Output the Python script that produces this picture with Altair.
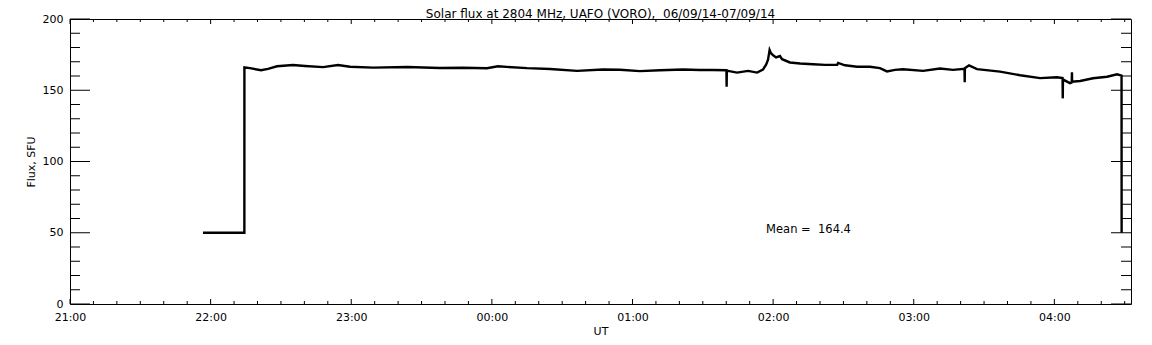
import altair as alt
import pandas as pd

# ---- data (UT time, flux in SFU) ----
times = [
    "21:56:45", "22:14:24", "22:14:25", "22:16:48", "22:21:30", "22:24:30", "22:28:20",
    "22:35:10", "22:40:15", "22:48:00", "22:54:20", "22:59:30", "23:09:20", "23:23:50",
    "23:37:50", "23:47:40", "23:57:55", "00:02:35", "00:15:00", "00:24:50", "00:36:20",
    "00:47:25", "00:54:40", "01:03:10", "01:11:45", "01:21:35", "01:28:50", "01:34:20",
    "01:40:05", "01:40:10", "01:40:15", "01:44:35", "01:49:20", "01:53:10", "01:55:40",
    "01:57:00", "01:57:50", "01:58:30", "01:59:05", "02:00:00", "02:01:15", "02:02:55",
    "02:03:50", "02:07:10", "02:11:30", "02:17:00", "02:22:10", "02:27:20", "02:27:45",
    "02:30:40", "02:35:50", "02:41:20", "02:45:35", "02:48:35", "02:52:00", "02:55:25",
    "03:04:00", "03:11:10", "03:16:45", "03:21:40", "03:21:45", "03:21:50", "03:23:35",
    "03:27:00", "03:36:50", "03:45:25", "03:53:55", "04:01:05", "04:03:30", "04:03:35",
    "04:03:40", "04:06:40", "04:07:25", "04:07:30", "04:07:35", "04:11:00", "04:16:30",
    "04:22:30", "04:26:45", "04:28:40", "04:28:42",
]
flux = [
    50.0, 50.0, 166.0, 165.5, 164.0, 165.0, 166.8,
    167.7, 167.0, 166.2, 167.7, 166.5, 165.9, 166.3,
    165.6, 165.8, 165.4, 166.8, 165.5, 164.9, 163.6,
    164.6, 164.4, 163.4, 164.0, 164.6, 164.2, 164.2,
    164.0, 152.5, 163.8, 162.4, 163.6, 162.4, 164.5,
    168.0, 171.5, 178.2, 176.0, 174.5, 173.0, 174.0,
    171.8, 169.5, 168.8, 168.2, 167.8, 167.8, 169.2,
    167.5, 166.5, 166.5, 165.5, 163.2, 164.3, 164.7,
    163.6, 165.3, 164.3, 165.0, 155.6, 165.5, 167.5,
    164.8, 163.1, 160.5, 158.5, 159.1, 158.5, 144.3,
    157.5, 155.0, 155.5, 162.6, 156.0, 156.5, 158.4,
    159.5, 161.2, 160.3, 50.0,
]

hour_labels = ["21:00", "22:00", "23:00", "00:00", "01:00", "02:00", "03:00", "04:00"]
y_major = [0, 50, 100, 150, 200]
y_minor = [v for v in range(0, 201, 10) if v % 50]

mean_text = "Mean =\u00a0 164.4"
mean_time = "01:57:00"
mean_y = 52

title_text = "Solar flux at 2804 MHz, UAFO (VORO),\u00a0 06/09/14-07/09/14"

X_END = 7.545  # 04:32:40 in hours after 21:00


def to_hours(s):
    parts = [int(p) for p in s.split(":")]
    while len(parts) < 3:
        parts.append(0)
    h = parts[0] + parts[1] / 60 + parts[2] / 3600
    if h < 21:
        h += 24
    return h - 21


series = pd.DataFrame({"t": [to_hours(s) for s in times], "flux": flux})
x_major = [to_hours(s) for s in hour_labels]
x_minor = [k / 6 for k in range(0, 46) if k % 6 != 0]

W, H = 1061, 285
FONT = "DejaVu Sans"

xscale = alt.Scale(domain=[0, X_END], nice=False, zero=False)
yscale = alt.Scale(domain=[0, 200], nice=False, zero=False)

xaxis = alt.Axis(
    values=x_major,
    labelExpr="(((datum.value + 21) % 24) < 10 ? '0' : '') + ((datum.value + 21) % 24) + ':00'",
    ticks=False,
    tickSize=0,
    domain=False,
    grid=False,
    labelFlush=False,
    labelPadding=7,
    title="UT",
    titlePadding=3,
)
yaxis = alt.Axis(
    values=y_major,
    ticks=False,
    tickSize=0,
    domain=False,
    grid=False,
    labelPadding=7,
    title="Flux, SFU",
    titlePadding=6,
)

line = alt.Chart(series).mark_line(color="black", strokeWidth=2.4, interpolate="linear").encode(
    x=alt.X("t:Q", scale=xscale, axis=xaxis),
    y=alt.Y("flux:Q", scale=yscale, axis=yaxis),
)

mean_df = pd.DataFrame({"t": [to_hours(mean_time)], "flux": [mean_y], "label": [mean_text]})
mean = alt.Chart(mean_df).mark_text(
    align="left", baseline="middle", font=FONT, fontSize=11.5, color="black"
).encode(
    x=alt.X("t:Q", scale=xscale, axis=xaxis),
    y=alt.Y("flux:Q", scale=yscale, axis=yaxis),
    text="label:N",
)

title_df = pd.DataFrame({"label": [title_text]})
title = alt.Chart(title_df).mark_text(
    align="center", baseline="alphabetic", font=FONT, fontSize=12, color="black"
).encode(
    x=alt.value(W / 2), y=alt.value(-1), text="label:N"
)

xmaj_df = pd.DataFrame({"t": x_major})
xmin_df = pd.DataFrame({"t": x_minor})
ymaj_df = pd.DataFrame({"flux": y_major})
ymin_df = pd.DataFrame({"flux": y_minor})


def xticks(df, length):
    bottom = alt.Chart(df).mark_rule(color="black", strokeWidth=1).encode(
        x=alt.X("t:Q", scale=xscale, axis=xaxis), y=alt.value(H), y2=alt.value(H - length)
    )
    top = alt.Chart(df).mark_rule(color="black", strokeWidth=1).encode(
        x=alt.X("t:Q", scale=xscale, axis=xaxis), y=alt.value(0), y2=alt.value(length)
    )
    return [bottom, top]


def yticks(df, length):
    left = alt.Chart(df).mark_rule(color="black", strokeWidth=1).encode(
        y=alt.Y("flux:Q", scale=yscale, axis=yaxis), x=alt.value(0), x2=alt.value(length)
    )
    right = alt.Chart(df).mark_rule(color="black", strokeWidth=1).encode(
        y=alt.Y("flux:Q", scale=yscale, axis=yaxis), x=alt.value(W - length), x2=alt.value(W)
    )
    return [left, right]


layers = [line, mean, title] + xticks(xmaj_df, 5) + xticks(xmin_df, 3) + yticks(ymaj_df, 20) + yticks(ymin_df, 10)

chart = alt.layer(*layers).properties(
    width=W,
    height=H,
    autosize=alt.AutoSizeParams(type="none"),
    padding={"left": 62, "top": 11, "right": 13, "bottom": 33},
).configure_view(
    stroke="black", strokeWidth=1
).configure_axis(
    labelFont=FONT, labelFontSize=11, labelColor="black",
    titleFont=FONT, titleFontSize=11, titleFontWeight="normal", titleColor="black",
)

chart.save("out.html", embed_options={"renderer": "svg", "actions": False})
